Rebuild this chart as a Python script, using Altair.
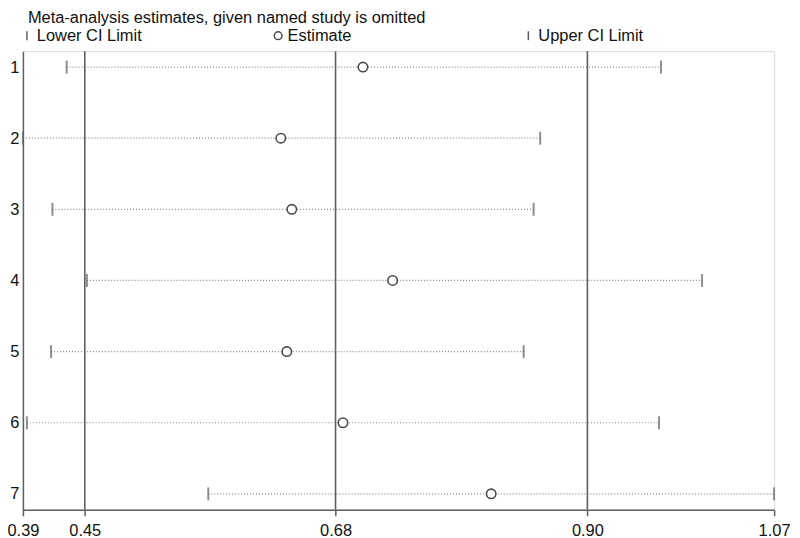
import altair as alt
import pandas as pd

# ---- data ----
study = [1, 2, 3, 4, 5, 6, 7]
lower = [0.4326, 0.3930, 0.4197, 0.4509, 0.4185, 0.3966, 0.5608]
estimate = [0.7008, 0.6265, 0.6364, 0.7277, 0.6319, 0.6827, 0.8169]
upper = [0.9706, 0.8613, 0.8553, 1.0078, 0.8463, 0.9688, 1.0730]

overall = [0.449, 0.676, 0.904]          # overall lower CI, estimate, upper CI
tick_values = [0.393, 0.449, 0.676, 0.904, 1.073]
title_text = "Meta-analysis estimates, given named study is omitted"
legend_labels = ["Lower CI Limit", "Estimate", "Upper CI Limit"]

df = pd.DataFrame({"study": study, "lower": lower, "estimate": estimate, "upper": upper})
ref = pd.DataFrame({"v": overall})

W, H = 755, 461
FONT = "Liberation Sans"
LINE = "#5f5f5f"

xscale = alt.Scale(domain=[tick_values[0], tick_values[-1]], nice=False, zero=False)
yscale = alt.Scale(domain=[0.776, 7.224], reverse=True, nice=False, zero=False)

xaxis = alt.Axis(values=tick_values, format=".2f", title=None, grid=False,
                 tickSize=6, tickColor=LINE, tickWidth=1.5, domainColor=LINE, domainWidth=1.5,
                 labelFont=FONT, labelFontSize=16.5, labelColor="#111", labelPadding=7,
                 labelFlush=False)
yaxis = alt.Axis(values=study, format="d", title=None, grid=False, ticks=False,
                 domainColor=LINE, domainWidth=1.5,
                 labelFont=FONT, labelFontSize=16.5, labelColor="#111", labelPadding=4)

base = alt.Chart(df)

vlines = alt.Chart(ref).mark_rule(color=LINE, strokeWidth=1.6).encode(
    x=alt.X("v:Q", scale=xscale, axis=xaxis),
    y=alt.value(0), y2=alt.value(H),
)

dotted = base.mark_rule(color="#8a8a8a", strokeWidth=1.2, strokeDash=[1, 2]).encode(
    x=alt.X("lower:Q", scale=xscale, axis=xaxis),
    x2="upper:Q",
    y=alt.Y("study:Q", scale=yscale, axis=yaxis),
)

cap_lo = base.mark_tick(orient="vertical", size=13, thickness=2, color=LINE).encode(
    x=alt.X("lower:Q", scale=xscale),
    y=alt.Y("study:Q", scale=yscale),
)
cap_hi = base.mark_tick(orient="vertical", size=13, thickness=2, color=LINE).encode(
    x=alt.X("upper:Q", scale=xscale),
    y=alt.Y("study:Q", scale=yscale),
)

points = base.mark_point(shape="circle", filled=True, fill="white", stroke="#4a4a4a",
                         strokeWidth=1.6, size=90, opacity=1).encode(
    x=alt.X("estimate:Q", scale=xscale),
    y=alt.Y("study:Q", scale=yscale),
)

def txt(s, x, y, size=16.5):
    return alt.Chart(pd.DataFrame({"t": [s]})).mark_text(
        align="left", baseline="middle", font=FONT, fontSize=size, color="#111"
    ).encode(text="t:N", x=alt.value(x), y=alt.value(y))

title = txt(title_text, 5, -33.5)
leg1 = txt(legend_labels[0], 14, -15.5)
leg2 = txt(legend_labels[1], 266, -15.5)
leg3 = txt(legend_labels[2], 518, -15.5)

bar1 = alt.Chart(pd.DataFrame({"a": [0]})).mark_rule(color=LINE, strokeWidth=1.5).encode(
    x=alt.value(4), y=alt.value(-20), y2=alt.value(-11))
bar3 = alt.Chart(pd.DataFrame({"a": [0]})).mark_rule(color=LINE, strokeWidth=1.5).encode(
    x=alt.value(508), y=alt.value(-20), y2=alt.value(-11))
circ = alt.Chart(pd.DataFrame({"a": [0]})).mark_point(
    shape="circle", filled=True, fill="white", stroke="#4a4a4a", strokeWidth=1.5, size=60, opacity=1
).encode(x=alt.value(256.5), y=alt.value(-15.5))

chart = alt.layer(
    dotted, vlines, cap_lo, cap_hi, points,
    title, leg1, leg2, leg3, bar1, bar3, circ
).properties(
    width=W, height=H,
    autosize=alt.AutoSizeParams(type="none"),
    padding={"left": 15, "top": 42, "right": 18, "bottom": 27},
).configure_view(stroke=None).configure(background="white")

chart.save("out.html", embed_options={"renderer": "svg", "actions": False})
